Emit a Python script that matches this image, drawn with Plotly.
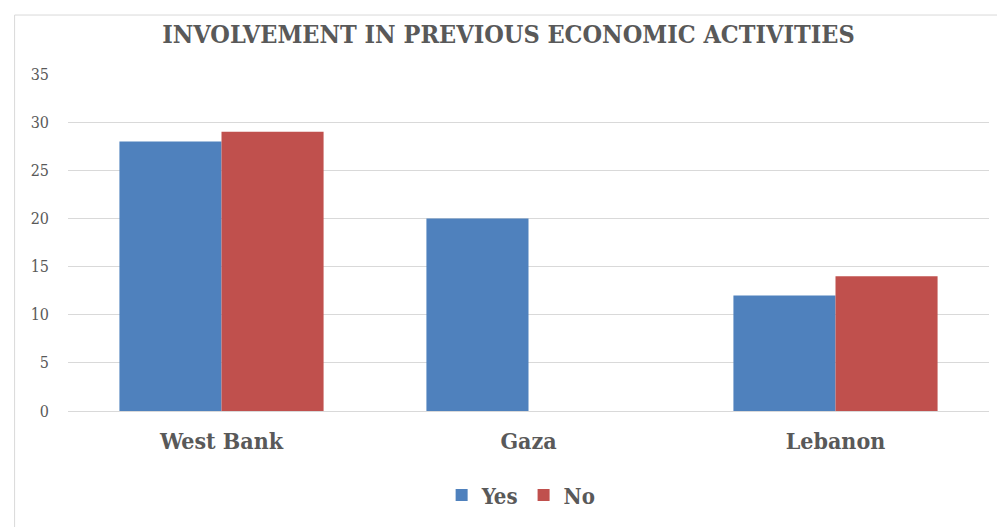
import plotly.graph_objects as go

regions = ["West Bank", "Gaza", "Lebanon"]
yes_vals = [28, 20, 12]
no_vals = [29, 0, 14]
y_ticks = [0, 5, 10, 15, 20, 25, 30, 35]

serif = "DejaVu Serif Condensed, Liberation Serif, serif"

fig = go.Figure()
fig.add_trace(go.Bar(name="<b>Yes</b>", x=regions, y=yes_vals, marker_color="#4f81bd",
                     marker_line_width=0))
fig.add_trace(go.Bar(name="<b>No</b>", x=regions, y=no_vals, marker_color="#c0504d",
                     marker_line_width=0))

fig.update_layout(
    width=997, height=527,
    barmode="group", bargap=0.335, bargroupgap=0,
    paper_bgcolor="white", plot_bgcolor="white",
    margin=dict(l=68, r=8, t=74, b=116),
    title=dict(text="<b>INVOLVEMENT IN PREVIOUS ECONOMIC ACTIVITIES</b>",
               x=0.51, xanchor="center", y=0.935, yanchor="middle",
               font=dict(family=serif, size=25, color="#595959")),
    font=dict(family=serif, color="#595959"),
    showlegend=True,
    legend=dict(orientation="h", x=0.492, xanchor="center", y=-0.25, yanchor="middle",
                font=dict(size=22, family=serif, color="#595959"),
                itemwidth=30, traceorder="normal"),
    shapes=[dict(type="rect", xref="paper", yref="paper",
                 x0=-0.058, x1=1.02, y0=-0.5, y1=1.175,
                 line=dict(color="#d9d9d9", width=1), layer="below")],
)
fig.update_yaxes(range=[0, 35], tickvals=y_ticks, showgrid=True, gridcolor="#d9d9d9",
                 gridwidth=1, zeroline=False, showline=False, ticks="",
                 tickfont=dict(size=16, color="#595959", family=serif),
                 ticklabelstandoff=18)
fig.update_xaxes(showline=True, linecolor="#d9d9d9", ticks="",
                 tickfont=dict(size=23, color="#595959", family=serif),
                 tickprefix="<b>", ticksuffix="</b>", ticklabelstandoff=9)

fig.write_html("out.html")
